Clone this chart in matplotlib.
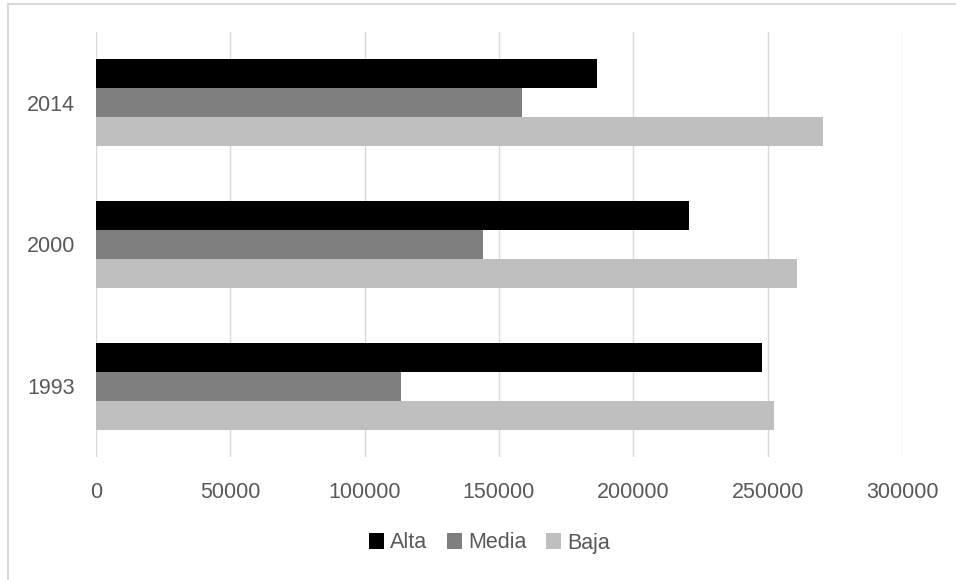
import numpy as np
import matplotlib.pyplot as plt
from matplotlib.lines import Line2D

plt.rcParams['font.family'] = ['Liberation Sans', 'DejaVu Sans']

years = ['1993', '2000', '2014']
alta = [247900, 220600, 186400]
media = [113400, 143900, 158600]
baja = [252200, 261000, 270700]
series = ['Alta', 'Media', 'Baja']
colors = ['#000000', '#7f7f7f', '#bfbfbf']
xticks = [0, 50000, 100000, 150000, 200000, 250000, 300000]

fig = plt.figure(figsize=(9.56, 5.8), dpi=100)
ax = fig.add_axes([0.1004, 0.212, 0.8431, 0.733])

y = np.arange(len(years))
h = 0.205
for vals, off, c, name in zip([alta, media, baja], [h, 0, -h], colors, series):
    ax.barh(y + off, vals, height=h, color=c, label=name)

ax.set_xlim(0, 300000)
ax.set_ylim(-0.5, 2.5)
ax.set_xticks(xticks)
ax.set_xticklabels([str(v) for v in xticks])
ax.set_yticks(y)
ax.set_yticklabels(years)
ax.tick_params(length=0, labelsize=15.5, colors='#595959')
ax.tick_params(axis='y', pad=15)
ax.tick_params(axis='x', pad=18)
ax.grid(axis='x', color='#d9d9d9', linewidth=1)
ax.set_axisbelow(True)
for s in ax.spines.values():
    s.set_visible(False)

fig.legend(loc='center', bbox_to_anchor=(0.512, 1 - 543 / 580), ncol=3,
           frameon=False, fontsize=15.5, labelcolor='#595959',
           handlelength=0.7, handleheight=0.7, handletextpad=0.3,
           columnspacing=0.9)

# outer border, top and left edges only
fig.add_artist(Line2D([8 / 956, 8 / 956], [0, 1 - 4 / 580], transform=fig.transFigure,
                      color='#d9d9d9', linewidth=1.5))
fig.add_artist(Line2D([8 / 956, 1], [1 - 4 / 580, 1 - 4 / 580], transform=fig.transFigure,
                      color='#d9d9d9', linewidth=1.5))

fig.savefig('out.png', dpi=100)
